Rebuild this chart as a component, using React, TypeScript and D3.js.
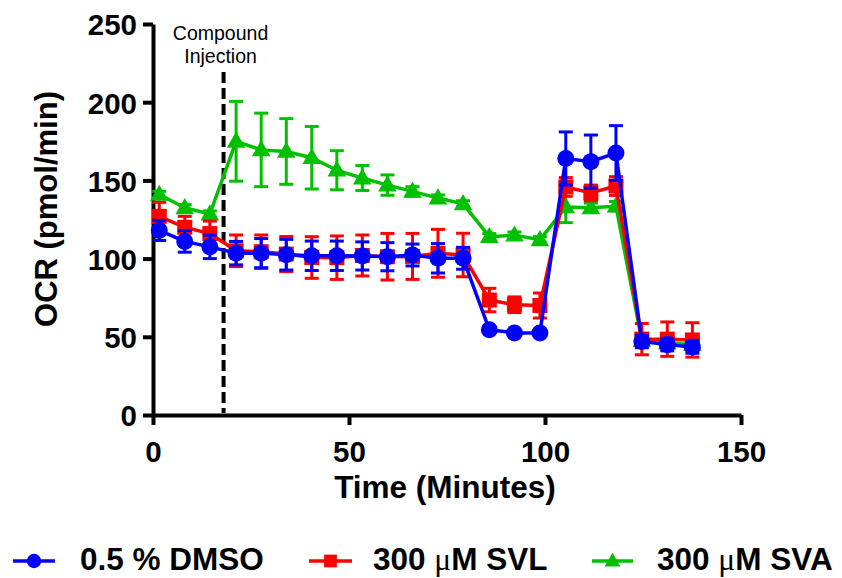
import React, { useEffect, useRef } from 'react';
import * as d3 from 'd3';

// measurement times (minutes)
const times = [1.6, 8.1, 14.5, 21.2, 27.6, 34.0, 40.5, 46.9, 53.4, 59.8, 66.2, 72.7, 79.1, 85.8, 92.2, 98.7, 105.3, 111.7, 118.1, 124.7, 131.2, 137.6];

// OCR means and SEM per series
const dmso = [118, 111, 107.5, 103.5, 103.5, 102.5, 101.8, 101.8, 101.7, 101.2, 102.3, 100.2, 100.2, 54.5, 52.5, 52.5, 164, 162, 167.5, 47, 45, 43.5];
const dmsoErr = [6.4, 6.9, 7.5, 7.5, 9.3, 9.8, 9.4, 9.4, 9, 9, 7, 9.4, 7, 1.5, 1.5, 1.5, 17, 17, 17.5, 4, 4, 4];

const svl = [127, 120, 116, 105, 104.4, 102.9, 100.7, 100.6, 102, 101.2, 101.4, 103.4, 102.3, 73.5, 70.5, 70, 145.8, 142, 146.4, 48.5, 48.5, 48];
const svlErr = [9, 7, 8, 10.1, 10.7, 11.2, 13.3, 13.9, 13.1, 14.9, 14.7, 15.3, 13.9, 7.5, 5, 8, 6, 5, 6, 10, 11, 11];

const sva = [141, 132.5, 128.5, 175, 169.5, 168.5, 164.5, 156.5, 151.5, 147, 143, 138.7, 135, 114, 115, 112, 133, 132.5, 133.5, 47.5, 46, 45];
const svaErr = [2, 2, 2, 25.5, 23.5, 21, 20, 12.5, 8, 6.5, 3, 2, 2, 2, 2, 2, 10, 3, 3, 3, 3, 3];

const xTicks = [0, 50, 100, 150];
const yTicks = [0, 50, 100, 150, 200, 250];
const injectionTime = 18;

const series = [
  { name: 'sva', label: '300 ', unit: 'μ', rest: 'M SVA', values: sva, errs: svaErr, color: '#00c000', shape: 'triangle' },
  { name: 'svl', label: '300 ', unit: 'μ', rest: 'M SVL', values: svl, errs: svlErr, color: '#ff0000', shape: 'square' },
  { name: 'dmso', label: '0.5 % DMSO', unit: '', rest: '', values: dmso, errs: dmsoErr, color: '#0000ff', shape: 'circle' },
];

const FONT = '"Liberation Sans", Arial, sans-serif';

function drawMarker(g, shape, cx, cy, color, k = 1) {
  if (shape === 'circle') {
    g.append('circle').attr('cx', cx).attr('cy', cy).attr('r', 8.5 * k).attr('fill', color);
  } else if (shape === 'square') {
    const h = 7.5 * k;
    g.append('rect').attr('x', cx - h).attr('y', cy - h).attr('width', 2 * h).attr('height', 2 * h).attr('fill', color);
  } else {
    const sym = d3.symbol().type(d3.symbolTriangle).size(150 * k * k);
    g.append('path').attr('transform', `translate(${cx},${cy + 1})`).attr('d', sym()).attr('fill', color);
  }
}

export default function App() {
  const svgRef = useRef(null);

  useEffect(() => {
    const svg = d3.select(svgRef.current);
    svg.selectAll('*').remove();

    const x = d3.scaleLinear().domain([0, 150]).range([153, 741]);
    const y = d3.scaleLinear().domain([0, 250]).range([415, 24]);

    // axes
    const yAxis = svg.append('g').attr('transform', 'translate(153,0)')
      .call(d3.axisLeft(y).tickValues(yTicks).tickSize(10).tickSizeOuter(0).tickPadding(6));
    const xAxis = svg.append('g').attr('transform', 'translate(0,415)')
      .call(d3.axisBottom(x).tickValues(xTicks).tickSize(10).tickSizeOuter(0).tickPadding(16));
    [yAxis, xAxis].forEach((a) => {
      a.select('.domain').attr('stroke', '#000').attr('stroke-width', 4);
      a.selectAll('.tick line').attr('stroke', '#000').attr('stroke-width', 4);
      a.selectAll('.tick text')
        .attr('fill', '#000')
        .style('font-family', FONT)
        .style('font-weight', 'bold')
        .style('font-size', '29.5px');
    });
    yAxis.selectAll('.tick text').attr('dy', '0.37em');

    // injection marker
    svg.append('line')
      .attr('x1', x(injectionTime)).attr('x2', x(injectionTime))
      .attr('y1', 72).attr('y2', 413)
      .attr('stroke', '#000').attr('stroke-width', 4).attr('stroke-dasharray', '11,5');
    const inj = svg.append('text')
      .attr('text-anchor', 'middle')
      .style('font-family', FONT).style('font-size', '19.5px');
    inj.append('tspan').attr('x', x(injectionTime) - 3).attr('y', 40).text('Compound');
    inj.append('tspan').attr('x', x(injectionTime) - 3).attr('y', 63).text('Injection');

    const line = d3.line().x((d) => x(d[0])).y((d) => y(d[1]));

    series.forEach((s) => {
      const g = svg.append('g');
      const pts = times.map((t, i) => [t, s.values[i]]);
      // error bars
      pts.forEach(([t, v], i) => {
        const e = s.errs[i];
        const cx = x(t);
        g.append('line').attr('x1', cx).attr('x2', cx).attr('y1', y(v - e)).attr('y2', y(v + e))
          .attr('stroke', s.color).attr('stroke-width', 3);
        [v - e, v + e].forEach((c) => {
          g.append('line').attr('x1', cx - 7).attr('x2', cx + 7).attr('y1', y(c)).attr('y2', y(c))
            .attr('stroke', s.color).attr('stroke-width', 3);
        });
      });
      g.append('path').datum(pts).attr('d', line)
        .attr('fill', 'none').attr('stroke', s.color).attr('stroke-width', 3.5).attr('stroke-linejoin', 'round');
      pts.forEach(([t, v]) => drawMarker(g, s.shape, x(t), y(v), s.color));
    });

    // axis titles
    svg.append('text')
      .attr('x', 445).attr('y', 498).attr('text-anchor', 'middle')
      .style('font-family', FONT).style('font-weight', 'bold').style('font-size', '31.5px')
      .text('Time (Minutes)');
    svg.append('text')
      .attr('transform', 'translate(57,209) rotate(-90)').attr('text-anchor', 'middle')
      .style('font-family', FONT).style('font-weight', 'bold').style('font-size', '31px')
      .text('OCR (pmol/min)');

    // legend
    const legendPos = [
      { name: 'dmso', sx: 13, ex: 55, tx: 80 },
      { name: 'svl', sx: 309, ex: 352, tx: 373 },
      { name: 'sva', sx: 592, ex: 633, tx: 657 },
    ];
    legendPos.forEach((p) => {
      const s = series.find((d) => d.name === p.name);
      const g = svg.append('g');
      g.append('line').attr('x1', p.sx).attr('x2', p.ex).attr('y1', 561).attr('y2', 561)
        .attr('stroke', s.color).attr('stroke-width', 3.5);
      drawMarker(g, s.shape, (p.sx + p.ex) / 2, 561, s.color, 0.85);
      const t = g.append('text').attr('x', p.tx).attr('y', 570)
        .style('font-family', FONT).style('font-weight', 'bold').style('font-size', '31.5px');
      t.append('tspan').text(s.label);
      if (s.unit) {
        t.append('tspan').style('font-family', '"Liberation Serif", "DejaVu Serif", serif').style('font-weight', 'normal').text(s.unit);
        t.append('tspan').text(s.rest);
      }
    });
  }, []);

  return (
    <svg ref={svgRef} width={842} height={578} style={{ position: 'absolute', left: 0, top: 0, background: '#fff' }} />
  );
}
